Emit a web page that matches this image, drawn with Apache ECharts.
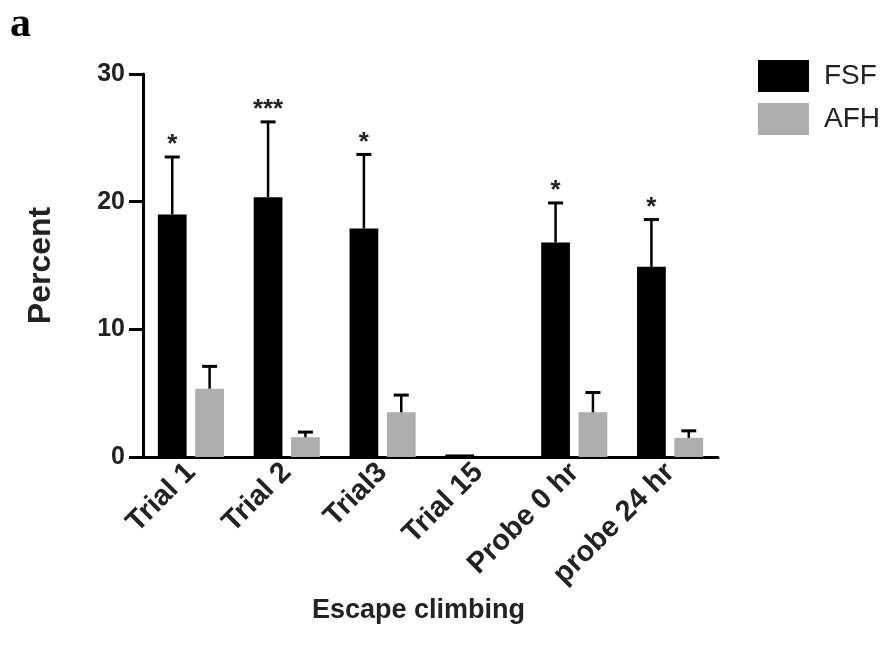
<!DOCTYPE html>
<html><head><meta charset="utf-8">
<script src="https://cdn.jsdelivr.net/npm/echarts@6/dist/echarts.min.js"></script>
<style>html,body{margin:0;padding:0;background:#fff}#c{width:885px;height:651px}</style>
</head><body><div id="c"></div>
<script>
const categories = ['Trial 1', 'Trial 2', 'Trial3', 'Trial 15', 'Probe 0 hr', 'probe 24 hr'];
const fsfMean = [19.0, 20.35, 17.9, 0.2, 16.8, 14.9];
const fsfErr  = [4.5, 5.9, 5.8, 0, 3.1, 3.7];
const afhMean = [5.35, 1.55, 3.5, 0, 3.5, 1.5];
const afhErr  = [1.75, 0.4, 1.35, 0, 1.55, 0.55];
const stars   = ['*', '***', '*', '', '*', '*'];
const yMin = 0, yMax = 30, yStep = 10;

const FONT = 'Liberation Sans, Arial, Helvetica, sans-serif';
const BAR_W = 0.3, BAR_GAP = 0.3;

function errSeries(name, means, errs, sign, withStars) {
  return {
    type: 'custom', name: name + ' err', silent: true, z: 5,
    data: means.map((m, i) => [i, m, errs[i]]),
    encode: { x: 0, y: 1 },
    renderItem: function (params, api) {
      const i = api.value(0), m = api.value(1), e = api.value(2);
      const band = api.size([1, 0])[0];
      const off = sign * (BAR_W * (1 + BAR_GAP) / 2) * band;
      const p0 = api.coord([i, m]);
      const p1 = api.coord([i, m + e]);
      const x = p0[0] + off;
      const children = [];
      if (e > 0) {
        children.push({ type: 'line', shape: { x1: x, y1: p0[1], x2: x, y2: p1[1] }, style: { stroke: '#000', lineWidth: 2.5 } });
        children.push({ type: 'line', shape: { x1: x - 7.5, y1: p1[1], x2: x + 7.5, y2: p1[1] }, style: { stroke: '#000', lineWidth: 3 } });
      }
      if (withStars && stars[params.dataIndex]) {
        children.push({ type: 'text', style: { text: stars[params.dataIndex], x: x, y: p1[1] - 12, align: 'center', verticalAlign: 'middle', font: 'bold 26px ' + FONT, fill: '#222' } });
      }
      return { type: 'group', children: children };
    }
  };
}

const chart = echarts.init(document.getElementById('c'), null, { renderer: 'canvas' });
chart.setOption({
  animation: false,
  backgroundColor: '#fff',
  textStyle: { fontFamily: FONT },
  grid: { left: 143, right: 167, top: 74, bottom: 194, containLabel: false },
  legend: {
    left: 753, top: 55, orient: 'vertical', itemWidth: 51, itemHeight: 32, itemGap: 11,
    icon: 'rect', data: ['FSF', 'AFH'],
    textStyle: { fontSize: 28, color: '#222', fontFamily: FONT, padding: [0, 0, 0, 10] }
  },
  graphic: [{ type: 'text', left: 10, top: 4, style: { text: 'a', font: 'bold 42px "Liberation Serif", "Times New Roman", serif', fill: '#000' } }],
  xAxis: {
    type: 'category', data: categories,
    name: 'Escape climbing', nameLocation: 'middle', nameGap: 136,
    nameTextStyle: { fontSize: 27, fontWeight: 'bold', color: '#222', padding: [0, 24, 0, 0] },
    axisLine: { lineStyle: { color: '#000', width: 3 } },
    axisTick: { show: false },
    axisLabel: { rotate: 45, fontSize: 29, fontWeight: 'bold', color: '#222', margin: 11, interval: 0 }
  },
  yAxis: {
    type: 'value', min: yMin, max: yMax, interval: yStep,
    name: 'Percent', nameLocation: 'middle', nameGap: 86, nameRotate: 90,
    nameTextStyle: { fontSize: 32, fontWeight: 'bold', color: '#222' },
    axisLine: { show: true, lineStyle: { color: '#000', width: 3 } },
    axisTick: { show: true, length: 14, lineStyle: { color: '#000', width: 3 } },
    axisLabel: { fontSize: 25, fontWeight: 'bold', color: '#222', margin: 18 },
    splitLine: { show: false }
  },
  series: [
    { type: 'bar', name: 'FSF', data: fsfMean, barWidth: (BAR_W * 100) + '%', barGap: (BAR_GAP * 100) + '%', itemStyle: { color: '#000' } },
    { type: 'bar', name: 'AFH', data: afhMean, barWidth: (BAR_W * 100) + '%', barGap: (BAR_GAP * 100) + '%', itemStyle: { color: '#aeaeae' } },
    errSeries('FSF', fsfMean, fsfErr, -1, true),
    errSeries('AFH', afhMean, afhErr, 1, false)
  ]
});
</script></body></html>
